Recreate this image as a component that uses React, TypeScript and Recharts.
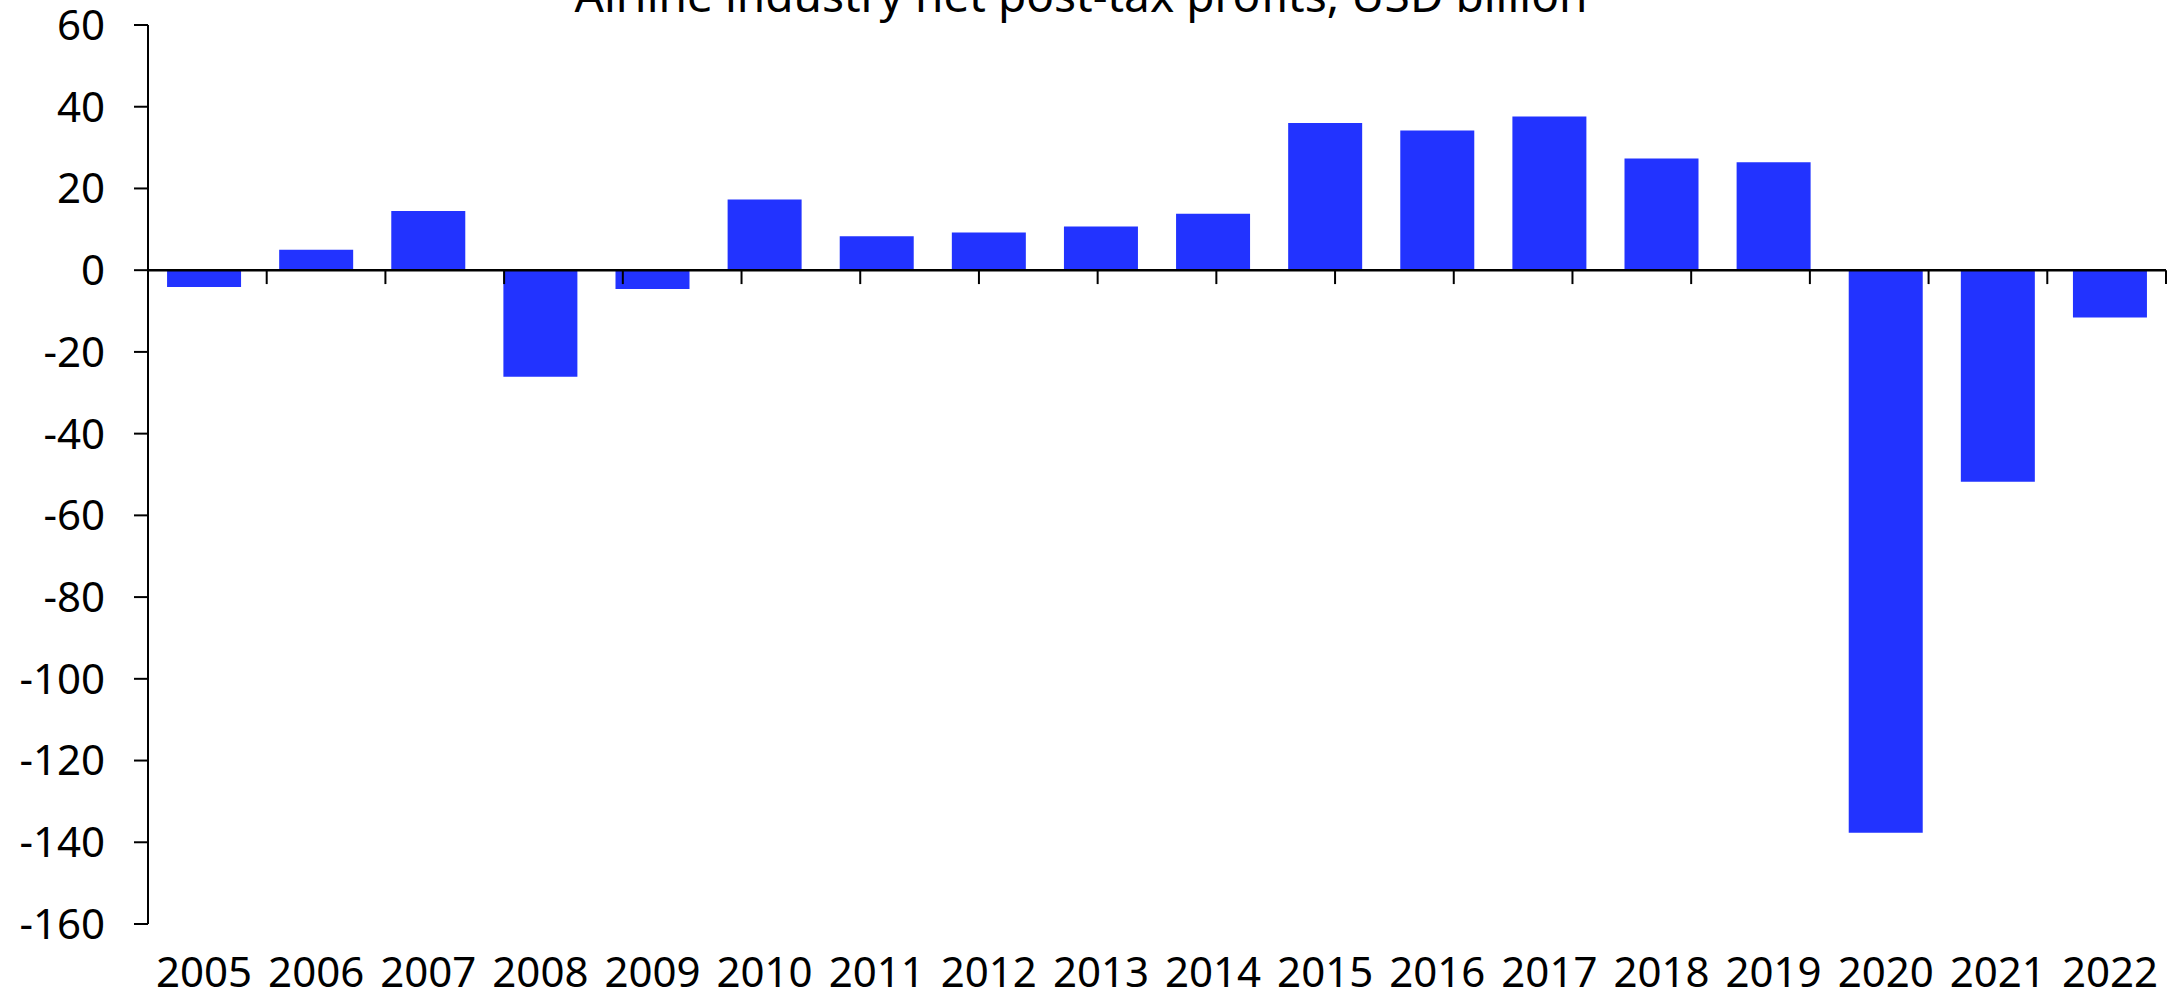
import { BarChart, Bar, XAxis, YAxis, ReferenceLine } from 'recharts';

const years = ['2005', '2006', '2007', '2008', '2009', '2010', '2011', '2012', '2013', '2014', '2015', '2016', '2017', '2018', '2019', '2020', '2021', '2022'];
const profits = [-4.1, 5.0, 14.5, -26.1, -4.6, 17.3, 8.3, 9.2, 10.7, 13.8, 36.0, 34.2, 37.6, 27.3, 26.4, -137.7, -51.8, -11.6];
const yTicks = [-160, -140, -120, -100, -80, -60, -40, -20, 0, 20, 40, 60];
const title = 'Airline industry net post-tax profits, USD billion';

const data = years.map((year, i) => ({ year, profit: profits[i] }));
// category edges for the little ticks on the zero line
const edges = Array.from({ length: years.length + 1 }, (_, i) => i);

const font = '"Noto Sans", Roboto, sans-serif';

const App = () => {
  return (
    <div style={{ position: 'absolute', left: 0, top: 0, width: 2172, height: 999, background: '#fff' }}>
      <div
        style={{
          position: 'absolute',
          left: 0,
          top: -29,
          width: 2162,
          textAlign: 'center',
          fontFamily: font,
          fontSize: 46,
          lineHeight: '46px',
          color: '#000',
          whiteSpace: 'nowrap',
        }}
      >
        {title}
      </div>
      <BarChart
        width={2172}
        height={999}
        data={data}
        margin={{ top: 25, right: 6, bottom: 0, left: 0 }}
        barCategoryGap="17%"
      >
        <XAxis
          dataKey="year"
          axisLine={false}
          tickLine={false}
          tickSize={0}
          tickMargin={33}
          interval={0}
          height={75}
          tick={{ fill: '#000', fontSize: 42, fontFamily: font }}
        />
        <XAxis xAxisId="edges" type="number" domain={[0, years.length]} hide />
        <YAxis
          domain={[-160, 60]}
          ticks={yTicks}
          interval={0}
          width={148}
          tickSize={14}
          tickMargin={29}
          axisLine={{ stroke: '#000', strokeWidth: 2 }}
          tickLine={{ stroke: '#000', strokeWidth: 2 }}
          tick={{ fill: '#000', fontSize: 42, fontFamily: font }}
        />
        <Bar dataKey="profit" fill="#2233FF" isAnimationActive={false} />
        <ReferenceLine y={0} stroke="#000" strokeWidth={2.5} />
        {edges.map((e) => (
          <ReferenceLine
            key={e}
            xAxisId="edges"
            segment={[{ x: e, y: 0 }, { x: e, y: -3.4 }]}
            stroke="#000"
            strokeWidth={2}
            ifOverflow="visible"
          />
        ))}
      </BarChart>
    </div>
  );
};

export default App;
